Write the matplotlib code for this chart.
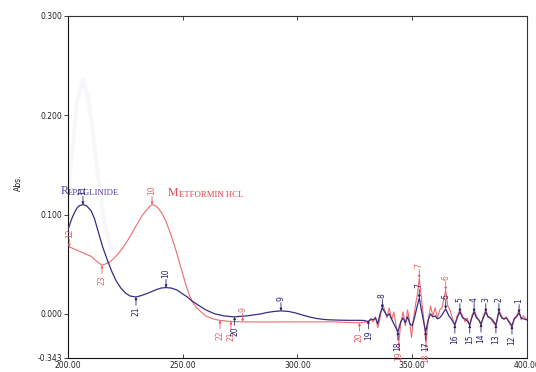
import numpy as np
import matplotlib.pyplot as plt

# Repaglinide trace (nm, Abs.)
rep_x = [200, 201, 202, 203, 204, 205, 206.5, 208, 210, 211.5, 213, 215, 217, 219, 221, 223, 225,
         227, 229.6, 232, 235, 238, 240.5, 242.7, 245, 247.5, 250, 252, 254, 256, 258, 260, 262,
         264, 266, 268, 270, 272.3, 275, 278, 281, 284, 287, 290, 292.8, 296, 299, 302, 305, 308,
         311, 314, 318, 322, 326, 329, 330.9,
         332, 333, 334, 335, 336, 337, 338, 339, 340, 341, 342, 343.8, 345, 346, 347, 348, 349, 350,
         351, 352, 353.1, 354, 355, 355.9, 357, 358, 359, 360, 361, 362, 363, 364.6, 366, 367,
         368.6, 369.6, 370.8, 372, 373, 374, 375.1, 376, 377, 378, 379, 380, 381, 382.1, 383, 384,
         385, 386.5, 387.8, 389, 390, 391, 392, 393.5, 394.5, 395.5, 396.6, 397.5, 398.5, 400]
rep_y = [0.085, 0.092, 0.098, 0.103, 0.107, 0.109, 0.110, 0.109, 0.104, 0.096, 0.084, 0.068, 0.055,
         0.043, 0.033, 0.026, 0.021, 0.018, 0.017, 0.0185, 0.021, 0.024, 0.026, 0.0265, 0.026, 0.024,
         0.020, 0.017, 0.013, 0.010, 0.007, 0.004, 0.002, 0.000, -0.001, -0.002, -0.0025, -0.003,
         -0.0025, -0.002, -0.001, 0.000, 0.0015, 0.0025, 0.003, 0.0025, 0.001, -0.001, -0.003,
         -0.0045, -0.0055, -0.006, -0.0063, -0.0065, -0.0065, -0.0066, -0.008,
         -0.005, -0.006, -0.004, -0.010, 0.000, 0.006, 0.002, -0.002, 0.000, -0.005, -0.010, -0.018,
         -0.008, -0.004, -0.009, -0.003, -0.010, -0.012, -0.004, 0.006, 0.016, 0.004, -0.008, -0.018,
         -0.006, 0.000, -0.003, -0.002, -0.005, -0.004, -0.001, 0.005, -0.002, -0.005, -0.011, -0.004,
         0.002, -0.004, -0.005, -0.007, -0.011, -0.004, 0.002, -0.004, -0.006, -0.010, -0.004, 0.002,
         -0.003, -0.004, -0.006, -0.011, 0.002, -0.004, -0.005, -0.004, -0.007, -0.012, -0.005,
         -0.003, 0.001, -0.004, -0.005, -0.006]

# Metformin HCl trace
met_x = [200, 202, 204, 206, 208, 210, 212, 213.5, 214.8, 216, 218, 220, 222, 224, 226, 228,
         230, 232, 234, 235.5, 236.6, 238, 239.5, 241, 242.5, 244, 245.5, 247, 248.5, 250, 251.5,
         253, 254.5, 256, 258, 260, 262, 264, 266, 270, 275, 285, 300, 315, 327, 330,
         332, 333, 334, 335, 336, 337, 338, 339, 340, 341, 342, 343, 344.2, 345, 346, 347, 348, 349,
         349.7, 350.5, 351.5, 352.3, 353.1, 354, 355, 356, 357, 358, 359, 360, 361, 362, 363, 364.6,
         365.5, 366.5, 367.5, 368.6, 369.6, 370.8, 372, 373, 374, 375.1, 376, 377, 378, 379, 380,
         381, 382.1, 383, 384, 385, 386.5, 387.8, 389, 390, 391, 392, 393.5, 394.5, 395.5, 396.6,
         397.5, 398.5, 400]
met_y = [0.068, 0.066, 0.064, 0.062, 0.060, 0.058, 0.054, 0.051, 0.049, 0.050, 0.052, 0.056, 0.061,
         0.067, 0.074, 0.082, 0.090, 0.098, 0.104, 0.108, 0.110, 0.109, 0.106, 0.101, 0.094, 0.085,
         0.075, 0.064, 0.052, 0.040, 0.028, 0.018, 0.011, 0.006, 0.002, -0.002, -0.004, -0.0055,
         -0.0065, -0.0075, -0.008, -0.0082, -0.008, -0.008, -0.009, -0.008,
         -0.006, -0.008, -0.003, -0.014, -0.004, 0.010, 0.004, -0.004, 0.006, -0.006, 0.002, -0.012,
         -0.028, -0.010, 0.002, -0.012, 0.004, -0.010, -0.024, -0.006, 0.010, 0.020, 0.036, 0.016,
         -0.004, -0.030, -0.006, 0.008, -0.002, 0.006, -0.004, 0.004, 0.006, 0.024, 0.008, 0.004,
         -0.004, -0.012, -0.002, 0.004, -0.002, -0.008, -0.004, -0.012, -0.002, 0.004, -0.002, -0.006,
         -0.012, -0.002, 0.004, -0.002, -0.004, -0.008, -0.012, 0.004, -0.002, -0.006, -0.003,
         -0.008, -0.014, -0.004, -0.002, 0.004, -0.006, -0.002, -0.006]

# faint ghost peak left over in the scan
ghost_x = [200, 202, 204, 206.5, 209, 211, 213, 215, 217, 219]
ghost_y = [0.120, 0.170, 0.215, 0.236, 0.215, 0.180, 0.140, 0.105, 0.080, 0.065]

# peak pick labels: (x, y, label, is_peak)
rep_marks = [(206.5, 0.110, "11", True), (229.6, 0.017, "21", False), (242.7, 0.0265, "10", True),
             (272.6, -0.003, "20", False), (292.8, 0.003, "9", True), (330.9, -0.0066, "19", False),
             (337.0, 0.006, "8", True), (343.8, -0.018, "18", False), (353.1, 0.016, "7", True),
             (355.9, -0.018, "17", False), (364.6, 0.005, "6", True), (368.6, -0.011, "16", False),
             (370.8, 0.002, "5", True), (375.1, -0.011, "15", False), (377, 0.002, "4", True),
             (380, -0.010, "14", False), (382.1, 0.002, "3", True), (386.5, -0.011, "13", False),
             (387.8, 0.002, "2", True), (393.5, -0.012, "12", False), (396.6, 0.001, "1", True)]
met_marks = [(200.5, 0.067, "12", True), (214.8, 0.049, "23", False), (236.6, 0.110, "10", True),
             (266.2, -0.0065, "22", False), (271.0, -0.0075, "21", False), (276.1, -0.008, "9", True),
             (327, -0.009, "20", False), (344.2, -0.028, "19", False), (353.1, 0.036, "7", True),
             (356, -0.030, "18", False), (364.6, 0.024, "6", True)]

y_bottom = -0.0443
yticks = [y_bottom, 0.0, 0.1, 0.2, 0.3]
ytick_labels = ["-0.343", "0.000", "0.100", "0.200", "0.300"]
xticks = [200, 250, 300, 350, 400]

rep_col = "#3a2c80"
met_col = "#ec6b72"

fig = plt.figure(figsize=(5.36, 3.72), dpi=100)
ax = fig.add_axes([0.127, 0.038, 0.856, 0.919])

ax.plot(ghost_x, ghost_y, color="#f6f7fb", lw=3, zorder=0, solid_capstyle="round")
ax.plot(met_x, met_y, color=met_col, lw=0.8, zorder=2)
ax.plot(rep_x, rep_y, color=rep_col, lw=0.9, zorder=3)


def mark(x, y, label, col, peak):
    s = 1 if peak else -1
    ax.annotate("", xy=(x, y), xytext=(0, 6 * s), textcoords="offset points",
                arrowprops=dict(arrowstyle="-|>", color=col, lw=0.6, mutation_scale=3.5,
                                shrinkA=0, shrinkB=0), annotation_clip=False, zorder=4)
    ax.annotate(label, xy=(x, y), xytext=(0, 7 * s), textcoords="offset points",
                rotation=90, ha="center", va="bottom" if peak else "top",
                fontsize=5.5, color=col, annotation_clip=False, zorder=4)


for x, y, lab, pk in met_marks:
    mark(x, y, lab, "#e8606a", pk)
for x, y, lab, pk in rep_marks:
    mark(x, y, lab, "#2a2070", pk)

# small-caps style compound names
t1 = ax.text(196.6, 0.121, "R", color="#5a3f9e", fontsize=8.5, family="Liberation Serif",
             clip_on=False)
ax.annotate("EPAGLINIDE", xy=(1, 0), xycoords=t1, color="#5a3f9e", fontsize=6.3,
            family="Liberation Serif", va="bottom")
t2 = ax.text(243.6, 0.119, "M", color="#e04050", fontsize=8.5, family="Liberation Serif")
ax.annotate("ETFORMIN HCL", xy=(1, 0), xycoords=t2, color="#e04050", fontsize=6.3,
            family="Liberation Serif", va="bottom")

ax.set_xlim(200, 400)
ax.set_ylim(y_bottom, 0.3)
ax.set_xticks(xticks)
ax.set_xticklabels(["%.2f" % v for v in xticks])
ax.set_yticks(yticks)
ax.set_yticklabels(ytick_labels)
ax.tick_params(axis="x", direction="in", top=True, length=3, width=0.6, labelsize=5.5, pad=2,
               colors="#222222")
ax.tick_params(axis="y", direction="out", length=3, width=0.6, labelsize=5.5, pad=1,
               colors="#222222")
for sp in ax.spines.values():
    sp.set_linewidth(0.8)
    sp.set_color("#333333")
ax.spines["left"].set_color("#111111")
ax.spines["bottom"].set_color("#111111")

fig.text(0.034, 0.51, "Abs.", rotation=90, fontsize=5.5, ha="center", va="center", color="#222222")

fig.savefig("out.png", dpi=100)
